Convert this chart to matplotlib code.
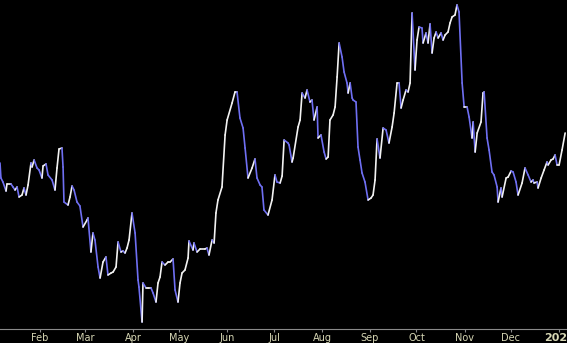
import matplotlib
matplotlib.use("Agg")
import matplotlib.pyplot as plt
import matplotlib.dates as mdates
from matplotlib.collections import LineCollection
import numpy as np
from datetime import datetime

# days after the first point (first point ~ 6 Jan 2024)
days = [0.0, 0.6, 1.9, 3.9, 4.5, 7.1, 8.4, 9.7, 11.0, 12.3,
        14.2, 15.5, 16.8, 18.1, 20.0, 20.7, 22.0, 23.9, 25.2, 27.1,
        27.8, 29.7, 31.0, 33.6, 35.5, 36.8, 38.1, 40.0, 40.7, 41.3,
        43.9, 45.2, 46.5, 47.8, 49.7, 51.6, 53.6, 56.2, 56.8, 58.7,
        60.0, 61.3, 63.3, 64.6, 66.5, 68.4, 69.7, 71.7, 73.0, 74.9,
        76.2, 78.1, 79.4, 80.7, 82.0, 83.3, 85.2, 87.2, 89.1, 89.7,
        91.7, 92.3, 94.3, 95.5, 97.5, 98.8, 100.7, 102.0, 103.3, 104.6,
        106.5, 108.5, 109.8, 111.7, 113.0, 114.9, 116.2, 117.5, 119.4, 121.4,
        122.0, 124.6, 125.2, 127.2, 129.1, 132.3, 133.6, 134.9, 136.9, 138.2,
        139.4, 140.7, 143.3, 145.3, 146.6, 149.8, 151.7, 153.0, 154.9, 156.9,
        158.2, 160.1, 162.7, 164.6, 165.9, 167.9, 169.1, 170.4, 173.0, 175.6,
        177.5, 178.8, 180.8, 182.1, 183.4, 185.9, 186.6, 188.5, 189.2, 192.4,
        193.7, 195.0, 196.9, 198.2, 200.1, 201.4, 202.7, 204.7, 205.3, 207.2,
        209.2, 210.5, 211.8, 213.0, 215.0, 216.3, 217.6, 218.9, 220.8, 222.1,
        224.0, 224.7, 226.0, 227.3, 227.9, 229.8, 231.1, 232.4, 233.7, 235.6,
        237.6, 239.5, 240.8, 242.1, 243.4, 245.3, 247.3, 249.2, 251.1, 253.1,
        254.4, 256.3, 257.6, 258.9, 260.2, 262.1, 263.4, 264.7, 266.0, 267.9,
        269.2, 270.5, 272.4, 273.1, 275.0, 276.3, 277.6, 278.9, 280.2, 281.5,
        282.8, 284.7, 286.0, 287.3, 289.2, 290.5, 291.8, 293.7, 295.0, 296.3,
        298.3, 299.6, 301.5, 302.8, 304.7, 305.4, 306.7, 308.0, 310.5, 311.8,
        312.5, 314.4, 315.7, 317.6, 318.9, 320.9, 321.5, 323.4, 324.1, 326.7,
        328.0, 329.9, 331.2, 333.1, 334.4, 337.0, 338.9, 340.9, 342.8, 344.1,
        344.7, 346.7, 347.3, 349.3, 351.2, 353.1, 353.8, 355.7, 357.0, 358.3,
        359.6, 360.9, 362.8, 364.8]

values = [166, 151, 147, 138, 145, 145, 142, 139, 142, 132,
          134, 141, 134, 144, 166, 162, 169, 161, 159, 151,
          163, 165, 154, 149, 139, 161, 180, 181, 162, 127,
          124, 132, 143, 139, 127, 123, 102, 109, 111, 77,
          96, 89, 62, 51, 67, 72, 54, 56, 57, 62,
          87, 77, 78, 76, 81, 89, 116, 96, 49, 42,
          7, 46, 41, 41, 41, 36, 27, 46, 52, 67,
          64, 67, 67, 70, 39, 27, 46, 56, 59, 71,
          88, 79, 86, 77, 80, 80, 81, 74, 89, 86,
          116, 129, 142, 194, 209, 226, 237, 237, 211, 201,
          181, 151, 161, 170, 151, 144, 142, 119, 114, 129,
          154, 147, 146, 153, 189, 186, 184, 167, 171, 202,
          209, 236, 231, 239, 227, 229, 209, 222, 191, 194,
          177, 170, 172, 209, 214, 222, 252, 286, 272, 257,
          246, 236, 246, 231, 229, 227, 182, 169, 156, 147,
          129, 131, 134, 149, 190, 171, 201, 199, 186, 202,
          216, 246, 246, 221, 229, 239, 237, 246, 316, 259,
          289, 302, 301, 286, 296, 286, 305, 276, 291, 297,
          291, 296, 289, 294, 297, 306, 312, 314, 324, 317,
          246, 222, 222, 212, 191, 207, 177, 196, 207, 236,
          237, 191, 179, 157, 154, 142, 127, 141, 132, 151,
          152, 158, 157, 147, 134, 146, 161, 154, 147, 149,
          146, 147, 141, 151, 159, 167, 164, 169, 170, 174,
          164, 164, 179, 196]

tick_dates = [datetime(2024, m, 1) for m in range(2, 13)] + [datetime(2025, 1, 1)]
tick_labels = ["Feb", "Mar", "Apr", "May", "Jun", "Jul", "Aug", "Sep",
               "Oct", "Nov", "Dec", "2025"]

up_color = "#f2f2f2"
down_color = "#6f6ff2"

start = mdates.date2num(datetime(2024, 1, 1)) + 5.16
x = start + np.array(days)
y = np.array(values, dtype=float)

fig = plt.figure(figsize=(5.67, 3.43), dpi=100, facecolor="black")
ax = fig.add_axes([0, 14 / 343, 1, 1 - 14 / 343])
ax.set_facecolor("black")

pts = np.column_stack([x, y])
segs = np.stack([pts[:-1], pts[1:]], axis=1)
cols = [up_color if d >= 0 else down_color for d in np.diff(y)]
lc = LineCollection(segs, colors=cols, linewidths=1.2, capstyle="round", joinstyle="round")
ax.add_collection(lc)

ax.set_xlim(start, start + 366)
ax.set_ylim(0, 329)

for s in ["top", "left", "right"]:
    ax.spines[s].set_visible(False)
ax.spines["bottom"].set_color("#8a8a8a")
ax.spines["bottom"].set_linewidth(0.8)

ax.set_yticks([])
ax.set_xticks(mdates.date2num(tick_dates))
ax.set_xticklabels(tick_labels)
ax.tick_params(axis="x", colors="#8a8a8a", length=2, width=0.8, pad=1,
               labelsize=7, labelcolor="#d6d6b4")
ax.get_xticklabels()[-1].set_fontweight("bold")
ax.get_xticklabels()[-1].set_fontsize(8)

fig.savefig("out.png", dpi=100, facecolor="black")
